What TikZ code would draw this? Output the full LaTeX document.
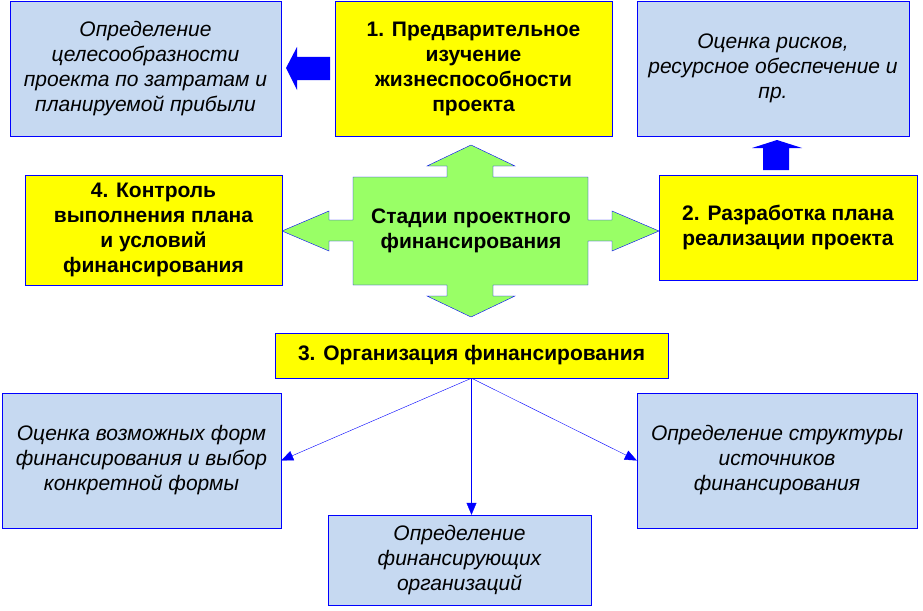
\documentclass[tikz,border=0pt]{standalone}
\usepackage{fontspec}
\setmainfont{Liberation Sans}
\usetikzlibrary{arrows.meta}

\definecolor{stageyellow}{HTML}{FFFF00}
\definecolor{noteblue}{HTML}{C6D9F1}
\definecolor{lineblue}{HTML}{0000FF}
\definecolor{hubgreen}{HTML}{99FF66}

\tikzset{
	stage/.style={draw=lineblue, fill=stageyellow, align=center, inner sep=0pt,
		font=\fontsize{21}{25}\selectfont\bfseries},
	note/.style={draw=lineblue, fill=noteblue, align=center, inner sep=0pt,
		font=\fontsize{21}{25}\selectfont\itshape},
	link/.style={draw=lineblue, -{Triangle[width=10pt,length=12pt]}}
}

\begin{document}
\begin{tikzpicture}[x=1pt, y=-1pt]
	\useasboundingbox (0,0) rectangle (923,610);
	% hub with four arrow heads
	\draw[lineblue, fill=hubgreen] (282,231) -- (329,211) -- (329,220) -- (353,220) -- (353,177)
		-- (447,177) -- (447,166) -- (427,166) -- (471,145) -- (515,166) -- (493,166) -- (493,177)
		-- (588,177) -- (588,220) -- (612,220) -- (612,211) -- (659,231) -- (612,251) -- (612,241)
		-- (588,241) -- (588,285) -- (493,285) -- (493,296) -- (515,296) -- (471,317) -- (427,296)
		-- (447,296) -- (447,285) -- (353,285) -- (353,241) -- (329,241) -- (329,251) -- cycle;
	\node (hub) at (471,231) [align=center, font=\fontsize{21}{25}\selectfont\bfseries]
		{Стадии проектного\\финансирования};

	% stages
	\node (st1) at (473.5,68.5) [stage, minimum width=277, minimum height=135]
		{1. Предварительное\\изучение\\жизнеспособности\\проекта};
	\node (st2) at (788,227.5) [stage, minimum width=258, minimum height=105]
		{2. Разработка плана\\реализации проекта};
	\node (st3) at (471.5,355.5) [stage, minimum width=393, minimum height=45]
		{3. Организация финансирования};
	\node (st4) at (153.5,230) [stage, minimum width=257, minimum height=110]
		{4. Контроль\\выполнения плана\\и условий\\финансирования};

	% notes
	\node (goal) at (145.5,68.5) [note, minimum width=271, minimum height=135]
		{Определение\\целесообразности\\проекта по затратам и\\планируемой прибыли};
	\node (risk) at (773,68.5) [note, minimum width=272, minimum height=135]
		{Оценка рисков,\\ресурсное обеспечение и\\пр.};
	\node (form) at (141.5,460.5) [note, minimum width=279, minimum height=135]
		{Оценка возможных форм\\финансирования и выбор\\конкретной формы};
	\node (bank) at (459.5,560) [note, minimum width=263, minimum height=90]
		{Определение\\финансирующих\\организаций};
	\node (srcs) at (777,460.5) [note, minimum width=280, minimum height=135]
		{Определение структуры\\источников\\финансирования};

	% block arrows
	\fill[lineblue] (286,68) -- (297,47) -- (297,57) -- (330,57) -- (330,80) -- (297,80) -- (297,90) -- cycle;
	\fill[lineblue] (777,140) -- (802,148) -- (789,148) -- (789,170) -- (763,170) -- (763,148) -- (752,148) -- cycle;

	% thin arrows
	\draw[link] (st3.south) -- (form.east);
	\draw[link] (st3.south) -- (bank.north -| st3.south);
	\draw[link] (st3.south) -- (srcs.west);
\end{tikzpicture}
\end{document}
